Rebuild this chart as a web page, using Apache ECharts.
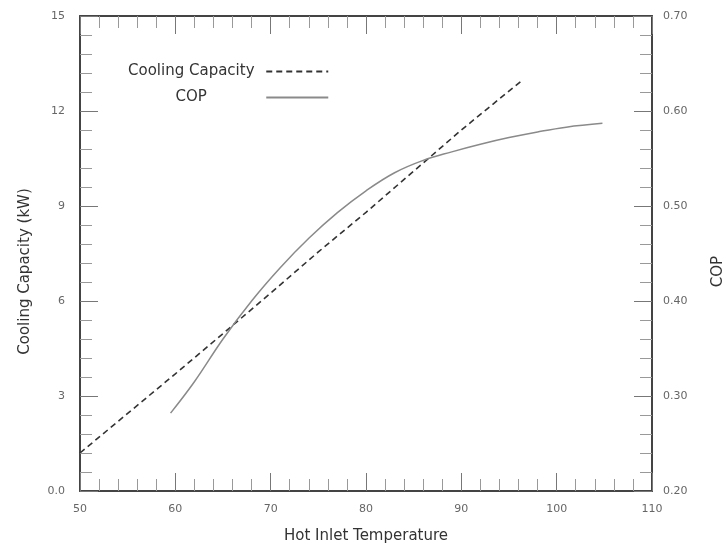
<!DOCTYPE html>
<html>
<head>
<meta charset="utf-8">
<script src="https://cdn.jsdelivr.net/npm/echarts@6/dist/echarts.min.js"></script>
<style>
  html, body { margin: 0; padding: 0; background: #fff; }
  #main { width: 723px; height: 548px; }
</style>
</head>
<body>
<div id="main"></div>
<script>
// values
const capTemp = [50, 55, 60, 65, 70, 75, 80, 85, 90, 96.3];
const capValue = [1.2, 2.45, 3.7, 4.97, 6.25, 7.55, 8.8, 10.1, 11.4, 12.95];

const copTemp = [59.5, 62, 65, 68, 71, 74, 77, 80, 83, 86, 89, 92, 95, 98, 101, 104.8];
const copValue = [0.282, 0.315, 0.36, 0.4, 0.435, 0.466, 0.493, 0.516, 0.535, 0.548, 0.557, 0.565, 0.572, 0.578, 0.583, 0.587];

const seriesNames = ['Cooling Capacity', 'COP'];
const xTicks = [50, 110, 10];
const capTicks = [0, 15, 3];
const copTicks = [0.2, 0.7, 0.1];

const font = 'DejaVu Sans';

function pairs(xs, ys) {
  let out = [];
  for (let i = 0; i < xs.length; i++) {
    out.push([xs[i], ys[i]]);
  }
  return out;
}

// inward ticks, boxed frame
function frameAxis(extra) {
  let base = {
    axisLine: { show: true, onZero: false, lineStyle: { color: '#444', width: 2 } },
    axisTick: { show: true, inside: true, length: 18, lineStyle: { color: '#777', width: 1 } },
    minorTick: { show: true, length: 12, splitNumber: 5, lineStyle: { color: '#999', width: 1 } },
    splitLine: { show: false },
    axisLabel: { color: '#666', fontSize: 11, fontFamily: font },
    nameTextStyle: { color: '#333', fontSize: 15, fontFamily: font }
  };
  return Object.assign(base, extra);
}

const chart = echarts.init(document.getElementById('main'), null, { renderer: 'canvas' });

const option = {
  backgroundColor: '#fff',
  animation: false,
  grid: { left: 80, right: 71, top: 16, bottom: 57, outerBoundsMode: 'none', containLabel: false },
  legend: {
    data: seriesNames,
    orient: 'vertical',
    left: 123,
    top: 59,
    align: 'right',
    itemWidth: 62,
    itemHeight: 14,
    itemGap: 11,
    itemStyle: { opacity: 0 },
    textStyle: {
      color: '#333',
      fontSize: 15,
      fontFamily: font,
      rich: { t: { width: 140, align: 'center', fontSize: 15, fontFamily: font, color: '#333' } }
    },
    formatter: function (name) {
      return '{t|' + name + '}';
    }
  },
  xAxis: [
    frameAxis({
      type: 'value',
      position: 'bottom',
      min: xTicks[0],
      max: xTicks[1],
      interval: xTicks[2],
      name: 'Hot Inlet Temperature',
      nameLocation: 'middle',
      nameGap: 38,
      axisLabel: { color: '#666', fontSize: 11, fontFamily: font, margin: 13 }
    }),
    frameAxis({
      type: 'value',
      position: 'top',
      min: xTicks[0],
      max: xTicks[1],
      interval: xTicks[2],
      axisLabel: { show: false }
    })
  ],
  yAxis: [
    frameAxis({
      type: 'value',
      position: 'left',
      min: capTicks[0],
      max: capTicks[1],
      interval: capTicks[2],
      name: 'Cooling Capacity (kW)',
      nameLocation: 'middle',
      nameGap: 47,
      nameTextStyle: { color: '#333', fontSize: 15, fontFamily: font, padding: [0, 36, 0, 0] },
      axisLabel: {
        color: '#666', fontSize: 11, fontFamily: font, margin: 15,
        formatter: function (v) { return v === 0 ? '0.0' : String(v); }
      }
    }),
    frameAxis({
      type: 'value',
      position: 'right',
      min: copTicks[0],
      max: copTicks[1],
      interval: copTicks[2],
      name: 'COP',
      nameLocation: 'middle',
      nameGap: 59,
      nameTextStyle: { color: '#333', fontSize: 15, fontFamily: font, padding: [0, 36, 0, 0] },
      axisLabel: {
        color: '#666', fontSize: 11, fontFamily: font, margin: 11,
        formatter: function (v) { return v.toFixed(2); }
      }
    })
  ],
  series: [
    {
      name: seriesNames[0],
      type: 'line',
      xAxisIndex: 0,
      yAxisIndex: 0,
      symbol: 'none',
      data: pairs(capTemp, capValue),
      lineStyle: { color: '#333', width: 1.6, type: [6, 4] },
      itemStyle: { color: '#333' }
    },
    {
      name: seriesNames[1],
      type: 'line',
      xAxisIndex: 0,
      yAxisIndex: 1,
      symbol: 'none',
      smooth: 0.4,
      data: pairs(copTemp, copValue),
      lineStyle: { color: '#8a8a8a', width: 1.5 },
      itemStyle: { color: '#8a8a8a' }
    }
  ]
};

chart.setOption(option);
</script>
</body>
</html>
